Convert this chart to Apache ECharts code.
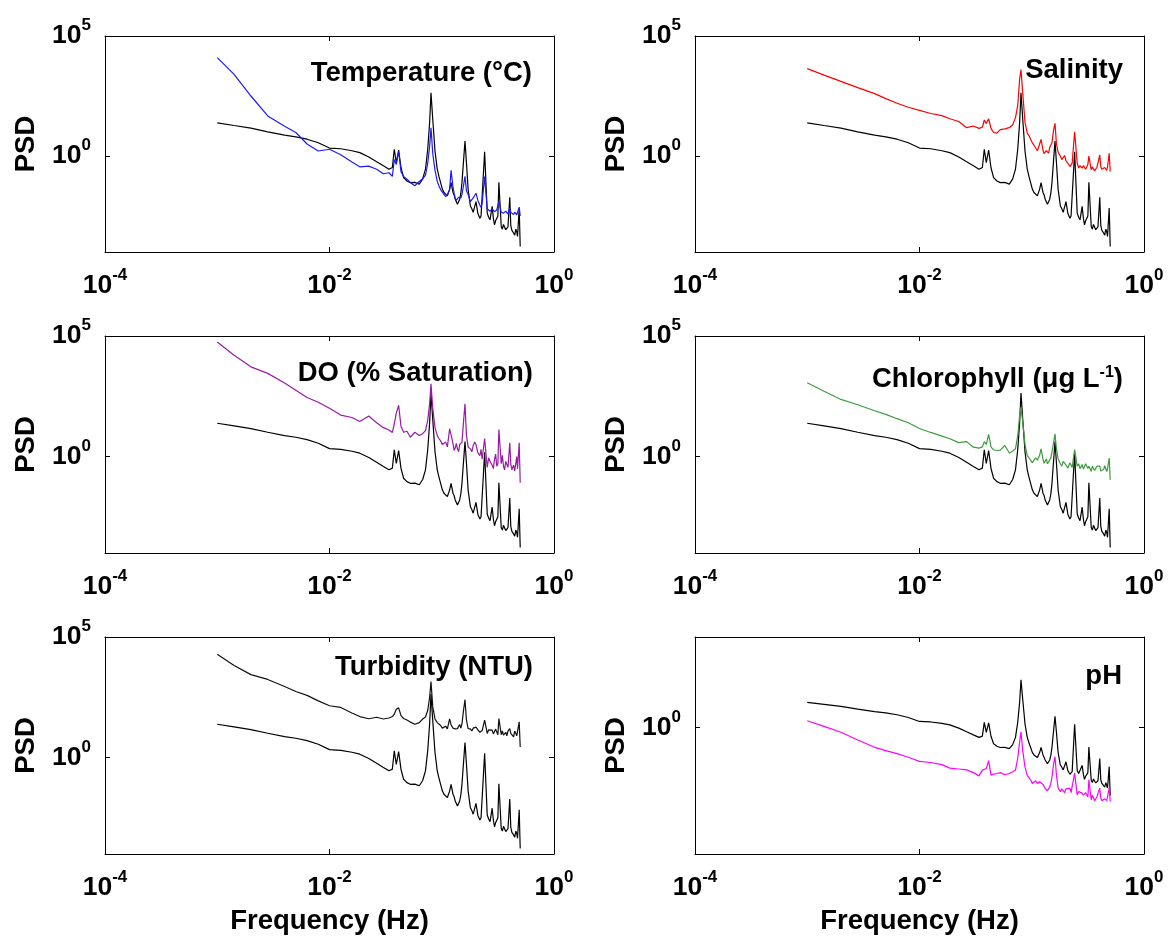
<!DOCTYPE html>
<html><head><meta charset="utf-8">
<script src="https://cdn.jsdelivr.net/npm/echarts@6/dist/echarts.min.js"></script>
<style>html,body{margin:0;padding:0;background:#fff}#c{width:1168px;height:936px}</style>
</head><body><div id="c"></div>
<script>
// Frequency grid (Hz)
const freq = [0.001, 0.001413, 0.001995, 0.002818, 0.003981, 0.005012, 0.00631, 0.007943, 0.01, 0.01259,
  0.01585, 0.01862, 0.02239, 0.0263, 0.0302, 0.03388, 0.03631, 0.03776, 0.03936, 0.0413,
  0.04335, 0.04571, 0.04898, 0.05248, 0.05754, 0.0631, 0.06761, 0.07161, 0.07499, 0.07798,
  0.0802, 0.08318,
  0.0871, 0.0912, 0.09441, 0.09772, 0.1012, 0.1047, 0.1084, 0.1122, 0.1175, 0.1211,
  0.1259, 0.1288, 0.1318, 0.1349, 0.138, 0.1413, 0.1445, 0.1479, 0.1514, 0.1567,
  0.1611, 0.166, 0.1718, 0.1799, 0.1854, 0.1905, 0.1963, 0.2018, 0.2099, 0.2188,
  0.2239, 0.2291, 0.241, 0.2541, 0.2618, 0.2692, 0.2812, 0.2884, 0.2951, 0.302,
  0.309, 0.3162, 0.3228, 0.3388, 0.3467, 0.3548, 0.3631, 0.3715, 0.3802, 0.389,
  0.4036, 0.4121, 0.4217, 0.4365, 0.4467, 0.4571, 0.4656, 0.4732, 0.4898, 0.5];

// Reference (black) PSD, shown in every panel
const psdRef = [24.0, 18.6, 14.5, 10.2, 7.41, 6.31, 5.01, 3.55, 2.14, 2.00,
  1.66, 1.38, 0.912, 0.575, 0.389, 0.282, 0.331, 1.91, 0.525, 1.78,
  0.324, 0.126, 0.0912, 0.0776, 0.0794, 0.0676, 0.112, 0.282, 1.91, 24.5,
  427, 33.1,
  1.58, 0.282, 0.141, 0.0776, 0.0417, 0.0302, 0.0316, 0.0219, 0.0407, 0.0776,
  0.0302, 0.024, 0.0158, 0.0141, 0.00977, 0.0112, 0.0158, 0.0282, 0.0776, 0.724,
  4.17, 0.525, 0.0407, 0.00832, 0.00631, 0.00447, 0.00501, 0.0126, 0.00398, 0.00257,
  0.00316, 0.00355, 1.51, 0.00417, 0.00282, 0.00219, 0.00794, 0.00251, 0.00135, 0.002,
  0.00178, 0.00316, 0.0813, 0.00115, 0.000891, 0.00141, 0.00158, 0.000851, 0.000708, 0.00112,
  0.0191, 0.00126, 0.000794, 0.000617, 0.000501, 0.000891, 0.000708, 0.000447, 0.00676, 0.00017];

const psdTemperature = [12600, 2510, 316, 46.8, 17.4, 9.55, 3.16, 1.62, 1.91, 1.12,
  0.562, 0.355, 0.380, 0.282, 0.182, 0.200, 0.141, 0.708, 0.447, 1.58,
  0.224, 0.141, 0.107, 0.0794, 0.0575, 0.0871, 0.112, 0.158, 0.501, 2.51,
  15.1, 1.26,
  0.251, 0.0891, 0.0562, 0.0398, 0.0355, 0.0251, 0.02, 0.0251, 0.0398, 0.251,
  0.0501, 0.0282, 0.0178, 0.0141, 0.0158, 0.0191, 0.02, 0.0178, 0.0251, 0.0631,
  0.141, 0.0355, 0.0251, 0.0126, 0.0112, 0.0178, 0.02, 0.0282, 0.0141, 0.00891,
  0.00708, 0.0112, 0.138, 0.00631, 0.00708, 0.00501, 0.00631, 0.00562, 0.00479, 0.00417,
  0.00562, 0.00631, 0.0126, 0.00447, 0.00525, 0.00417, 0.0038, 0.00501, 0.00447, 0.0038,
  0.00708, 0.00447, 0.00398, 0.00363, 0.00457, 0.00501, 0.00355, 0.00398, 0.00741, 0.00316];

const psdSalinity = [4365, 2340, 1290, 708, 398, 245, 158, 107, 79.4, 58.9,
  47.9, 35.5, 27.5, 15.1, 17.8, 14.1, 15.8, 31.6, 22.4, 35.5,
  14.1, 9.55, 8.91, 12.6, 13.5, 15.1, 20.0, 39.8, 126, 1585,
  3981, 398,
  25.1, 8.91, 7.08, 5.01, 3.55, 2.82, 2.40, 1.66, 3.16, 4.90,
  1.78, 1.26, 1.38, 1.66, 1.51, 1.32, 2.24, 2.63, 3.55, 12.6,
  22.9, 3.16, 1.41, 1.00, 0.708, 0.759, 1.05, 0.631, 0.501, 0.363,
  0.417, 0.501, 10.2, 0.501, 0.316, 0.398, 0.309, 0.398, 0.447, 0.282,
  0.316, 0.447, 1.00, 0.263, 0.355, 0.355, 0.24, 0.251, 0.331, 0.398,
  1.10, 0.355, 0.282, 0.263, 0.331, 0.398, 0.251, 0.363, 1.29, 0.224];

const psdDO = [56200, 15800, 5250, 2820, 1122, 562, 282, 178, 100, 52.5,
  41.7, 28.2, 47.9, 25.1, 15.8, 12.6, 10.0, 22.4, 63.1, 132,
  17.8, 10.2, 11.2, 6.31, 10.2, 7.41, 8.91, 12.0, 31.6, 158,
  1047, 100,
  15.8, 7.41, 5.62, 4.47, 3.16, 2.82, 3.98, 2.51, 14.1, 7.94,
  3.55, 1.78, 2.24, 3.55, 2.09, 1.58, 3.16, 2.82, 3.98, 31.6,
  155, 7.41, 2.51, 2.09, 1.58, 2.82, 3.98, 3.16, 1.41, 1.10,
  2.00, 0.794, 5.62, 0.355, 0.891, 0.631, 0.447, 0.316, 0.759, 1.26,
  0.398, 0.501, 13.2, 0.501, 1.12, 0.398, 0.282, 0.631, 0.708, 0.355,
  3.72, 0.501, 0.282, 0.447, 0.251, 0.550, 1.00, 0.316, 3.72, 0.0813];

const psdChlorophyll = [1148, 513, 234, 141, 79.4, 56.2, 37.2, 25.1, 14.5, 10.0,
  7.08, 5.50, 3.80, 4.17, 2.45, 2.24, 2.51, 4.17, 3.16, 8.32,
  2.51, 1.91, 1.78, 1.86, 2.88, 1.41, 1.66, 2.09, 7.41, 50.1,
  112, 26.9,
  3.16, 1.12, 0.891, 0.759, 0.562, 0.631, 0.891, 0.708, 1.12, 2.09,
  0.794, 0.525, 0.631, 0.794, 0.501, 0.447, 0.708, 0.891, 1.51, 3.98,
  8.71, 2.09, 0.794, 0.501, 0.398, 0.631, 0.603, 0.447, 0.331, 0.550,
  0.501, 0.355, 1.95, 0.398, 0.501, 0.316, 0.468, 0.302, 0.355, 0.501,
  0.417, 0.316, 0.398, 0.245, 0.398, 0.355, 0.263, 0.282, 0.398, 0.380,
  0.398, 0.251, 0.282, 0.288, 0.417, 0.398, 0.24, 0.316, 0.871, 0.110];

const psdTurbidity = [19050, 6610, 2754, 1738, 891, 550, 380, 224, 141, 120,
  70.8, 50.1, 40.7, 46.8, 39.8, 43.7, 50.1, 63.1, 100, 115,
  55.0, 41.7, 36.3, 29.5, 24.0, 28.2, 39.8, 47.9, 89.1, 316,
  1413, 126,
  39.8, 28.2, 24.0, 21.4, 16.6, 17.8, 20.0, 15.5, 39.8, 22.4,
  16.6, 19.1, 15.5, 13.2, 15.8, 19.1, 23.4, 16.6, 25.1, 100,
  251, 35.5, 15.8, 15.5, 12.6, 16.6, 20.0, 18.2, 14.1, 11.2,
  10.0, 13.2, 35.5, 10.0, 14.1, 12.6, 13.8, 9.55, 11.2, 15.1,
  12.6, 8.91, 41.7, 8.91, 12.6, 8.51, 10.0, 11.2, 7.94, 12.6,
  15.8, 10.0, 8.91, 7.24, 12.6, 10.0, 7.94, 8.91, 30.2, 2.75];

const psdPH = [2.34, 1.15, 0.537, 0.200, 0.0794, 0.0525, 0.0355, 0.0224, 0.0132, 0.0115,
  0.00871, 0.00562, 0.00501, 0.00447, 0.00316, 0.00209, 0.00437, 0.00501, 0.00537, 0.0145,
  0.00229, 0.00263, 0.00282, 0.00316, 0.0024, 0.00282, 0.00355, 0.00437, 0.02, 0.158,
  0.575, 0.0501,
  0.00631, 0.00224, 0.00166, 0.00126, 0.000794, 0.001, 0.00112, 0.000794, 0.001, 0.00112,
  0.000708, 0.000562, 0.000417, 0.000501, 0.000316, 0.000282, 0.000501, 0.000794, 0.00178, 0.01,
  0.024, 0.00229, 0.000447, 0.000282, 0.000398, 0.000316, 0.000251, 0.000398, 0.000355, 0.000437,
  0.000251, 0.000282, 0.00295, 0.000186, 0.000282, 0.000251, 0.000234, 0.000178, 0.000158, 0.000251,
  0.0002, 0.000141, 0.00126, 0.0001, 0.000178, 0.000141, 0.0000891, 0.000112, 0.000141, 0.000158,
  0.000437, 0.000126, 0.0000891, 0.0000794, 0.000112, 0.000126, 0.0000891, 0.000151, 0.000437, 0.0000794];

const xTickValues = [1e-4, 1e-2, 1];
const yTickValues = [1, 1e5];
const yTickValuesPH = [1];

const FONT = 'Liberation Sans, Arial, sans-serif';
const panels = [
  {left:105, top:36,  title:'Temperature (°C)', tRight:636, tTop:59, yMin:1e-4, yMax:1e5, yTicks:yTickValues, series:[[psdRef,'#000'],[psdTemperature,'#1a1aff']], xName:false},
  {left:695, top:36,  title:'Salinity', tRight:45, tTop:56, yMin:1e-4, yMax:1e5, yTicks:yTickValues, series:[[psdRef,'#000'],[psdSalinity,'#ff0000']], xName:false},
  {left:105, top:336, title:'DO (% Saturation)', tRight:635, tTop:359, yMin:1e-4, yMax:1e5, yTicks:yTickValues, series:[[psdRef,'#000'],[psdDO,'#9b19a6']], xName:false},
  {left:695, top:336, title:'{a|Chlorophyll (μg L}{s|-1}{a|)}', tRight:45, tTop:365, yMin:1e-4, yMax:1e5, yTicks:yTickValues, series:[[psdRef,'#000'],[psdChlorophyll,'#3c9c3c']], xName:false},
  {left:105, top:637, title:'Turbidity (NTU)', tRight:635, tTop:653, yMin:1e-4, yMax:1e5, yTicks:yTickValues, series:[[psdRef,'#000'],[psdTurbidity,'#111']], xName:true},
  {left:695, top:637, title:'pH', tRight:46, tTop:662, yMin:1e-7, yMax:1e5, yTicks:yTickValuesPH, series:[[psdRef,'#000'],[psdPH,'#ff00ff']], xName:true}
];

const labelRich = {
  b:{fontSize:26.5, fontWeight:'bold', fontFamily:FONT, lineHeight:38, color:'#000'},
  s:{fontSize:17, fontWeight:'bold', fontFamily:FONT, verticalAlign:'top', color:'#000'}
};
function pow10Label(v){ return '{b|10}{s|' + Math.round(Math.log10(v)) + '}'; }
const lineStyleAxis = {color:'#000', width:1};

const option = {animation:false, backgroundColor:'#fff', title:[], grid:[], xAxis:[], yAxis:[], series:[]};
panels.forEach((p, i) => {
  const h = i < 2 ? 216 : 217;
  option.grid.push({left:p.left, top:p.top, width:449, height:h, containLabel:false});
  option.title.push({text:p.title, right:p.tRight, top:p.tTop, padding:0,
    textStyle:{fontSize:27.5, fontWeight:'bold', fontFamily:FONT, color:'#000',
      rich:{a:{fontSize:27.5, fontWeight:'bold', fontFamily:FONT, color:'#000'},
            s:{fontSize:16, fontWeight:'bold', fontFamily:FONT, color:'#000', verticalAlign:'top'}}}});
  const xBase = {type:'log', logBase:10, gridIndex:i, min:1e-4, max:1,
    axisLine:{show:true, onZero:false, lineStyle:lineStyleAxis},
    axisTick:{show:true, inside:true, length:5, lineStyle:lineStyleAxis, customValues:xTickValues},
    splitLine:{show:false}, minorTick:{show:false}, minorSplitLine:{show:false}};
  option.xAxis.push(Object.assign({}, xBase, {position:'bottom',
    axisLabel:{show:true, customValues:xTickValues, formatter:pow10Label, margin:15, rich:labelRich, showMinLabel:true, showMaxLabel:true},
    name:p.xName ? 'Frequency (Hz)' : '', nameLocation:'middle', nameGap:53,
    nameTextStyle:{fontSize:27.5, fontWeight:'bold', fontFamily:FONT, color:'#000'}}));
  option.xAxis.push(Object.assign({}, xBase, {position:'top', axisLabel:{show:false}}));
  const yBase = {type:'log', logBase:10, gridIndex:i, min:p.yMin, max:p.yMax,
    axisLine:{show:true, onZero:false, lineStyle:lineStyleAxis},
    axisTick:{show:true, inside:true, length:5, lineStyle:lineStyleAxis, customValues:p.yTicks},
    splitLine:{show:false}, minorTick:{show:false}, minorSplitLine:{show:false}};
  option.yAxis.push(Object.assign({}, yBase, {position:'left',
    axisLabel:{show:true, customValues:p.yTicks, formatter:pow10Label, margin:14, rich:labelRich, showMinLabel:true, showMaxLabel:true},
    name:'PSD', nameLocation:'middle', nameGap:65,
    nameTextStyle:{fontSize:27.5, fontWeight:'bold', fontFamily:FONT, color:'#000'}}));
  option.yAxis.push(Object.assign({}, yBase, {position:'right', axisLabel:{show:false}}));
  p.series.forEach(([arr, color]) => {
    option.series.push({type:'line', xAxisIndex:2*i, yAxisIndex:2*i, symbol:'none', showSymbol:false,
      lineStyle:{color:color, width:1.2}, itemStyle:{color:color}, silent:true,
      data:freq.map((f, k) => [f, arr[k]])});
  });
});

const chart = echarts.init(document.getElementById('c'), null, {renderer:'canvas'});
chart.setOption(option);
</script></body></html>
